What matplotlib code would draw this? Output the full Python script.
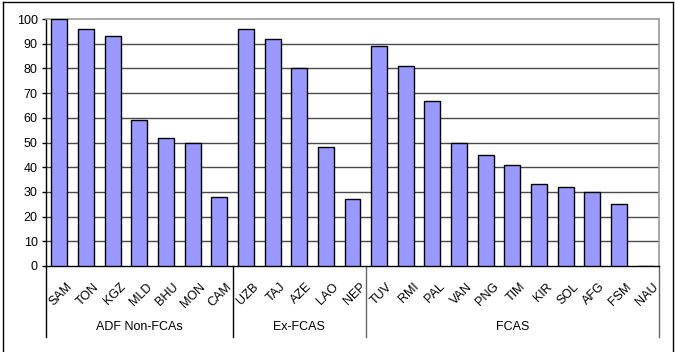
import matplotlib
matplotlib.use("Agg")
import matplotlib.pyplot as plt
from matplotlib.lines import Line2D

plt.rcParams["font.family"] = ["Liberation Sans", "DejaVu Sans"]

# Data
groups = ["ADF Non-FCAs", "Ex-FCAS", "FCAS"]
group_members = [
    ["SAM", "TON", "KGZ", "MLD", "BHU", "MON", "CAM"],
    ["UZB", "TAJ", "AZE", "LAO", "NEP"],
    ["TUV", "RMI", "PAL", "VAN", "PNG", "TIM", "KIR", "SOL", "AFG", "FSM", "NAU"],
]
adf_non_fcas = [100, 96, 93, 59, 52, 50, 28]
ex_fcas = [96, 92, 80, 48, 27]
fcas = [89, 81, 67, 50, 45, 41, 33, 32, 30, 25, 0]
y_ticks = list(range(0, 101, 10))

categories = [c for g in group_members for c in g]
values = adf_non_fcas + ex_fcas + fcas
n = len(categories)

fig = plt.figure(figsize=(6.75, 3.52), dpi=100)
W, H = 675, 352
left, right, top, bottom = 46, 659, 19, 266
ax = fig.add_axes([left / W, 1 - bottom / H, (right - left) / W, (bottom - top) / H])

# Outer frame around the whole chart
for xs, ys in [([2.5 / W, 2.5 / W], [0, 1 - 1.5 / H]),
               ([2.5 / W, 672.5 / W], [1 - 1.5 / H, 1 - 1.5 / H]),
               ([672.5 / W, 672.5 / W], [1 - 1.5 / H, 0])]:
    fig.add_artist(Line2D(xs, ys, color="black", lw=1.0, transform=fig.transFigure))

x = list(range(n))
ax.bar(x, values, width=0.6, color="#9999FF", edgecolor="black", linewidth=1.0, zorder=3)

ax.set_xlim(-0.5, n - 0.5)
ax.set_ylim(0, 100)
ax.set_yticks(y_ticks)
ax.set_yticklabels([str(t) for t in y_ticks], fontsize=9)
ax.tick_params(axis="y", direction="out", length=3, width=1, color="black", pad=3)
ax.set_xticks([])

# Horizontal gridlines
for t in y_ticks[1:-1]:
    ax.axhline(t, color="#4a4a4a", lw=1.0, zorder=1)

for s in ["top", "right"]:
    ax.spines[s].set_color("#9a9a9a")
    ax.spines[s].set_linewidth(1.2)
for s in ["left", "bottom"]:
    ax.spines[s].set_color("black")
    ax.spines[s].set_linewidth(1.0)

ph = bottom - top
cat_w = (right - left) / n

# Rotated category labels
for i, c in enumerate(categories):
    ax.text(i + 11 / cat_w, -19 / ph, c, transform=ax.get_xaxis_transform(),
            rotation=45, rotation_mode="anchor", ha="right", va="center",
            fontsize=9, clip_on=False)

# Group separators and group labels
bounds = [-0.5]
for g in group_members:
    bounds.append(bounds[-1] + len(g))
sep_y = -(337 - bottom) / ph
for i, b in enumerate(bounds):
    col = "black" if i < 2 else "#666666"
    ax.plot([b, b], [0, sep_y], transform=ax.get_xaxis_transform(),
            color=col, lw=1.0, clip_on=False)
for g, a, b in zip(groups, bounds[:-1], bounds[1:]):
    ax.text((a + b) / 2, -(327 - bottom) / ph, g, transform=ax.get_xaxis_transform(),
            ha="center", va="center", fontsize=9, clip_on=False)

fig.savefig("out.png", dpi=100)
